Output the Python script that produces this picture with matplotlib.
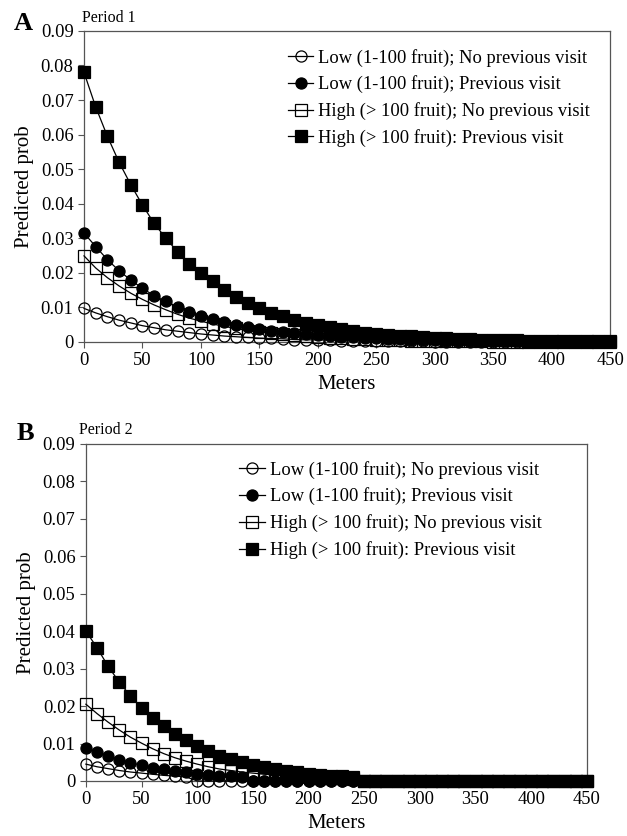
import matplotlib
matplotlib.use('Agg')
from matplotlib import pyplot as plt

plt.rcParams['font.family'] = ['Liberation Serif', 'DejaVu Serif']

# distance from the tree, every 10 m
meters = list(range(0, 451, 10))

labels = ['Low (1-100 fruit); No previous visit',
          'Low (1-100 fruit); Previous visit',
          'High (> 100 fruit); No previous visit',
          'High (> 100 fruit): Previous visit']

# Period 1
p1_low_noprev = [0.0097, 0.0084, 0.0073, 0.0063, 0.0055, 0.0047, 0.0041, 0.0035, 0.0031, 0.0027,
                 0.0023, 0.0020, 0.0017, 0.0015, 0.0013, 0.0011, 0.0010, 0.0009, 0.0007, 0.0006,
                 0.0006, 0.0005, 0.0004, 0.0004, 0.0003, 0.0003, 0.0002, 0.0002, 0.0002, 0.0002,
                 0.0001, 0.0001, 0.0001, 0.0001, 0.0001, 0.0001, 0.0001, 0.0001, 0.0000, 0.0000,
                 0.0000, 0.0000, 0.0000, 0.0000, 0.0000, 0.0000]
p1_low_prev = [0.0315, 0.0276, 0.0238, 0.0206, 0.0179, 0.0155, 0.0134, 0.0117, 0.0102, 0.0088,
               0.0076, 0.0066, 0.0057, 0.0050, 0.0043, 0.0038, 0.0033, 0.0029, 0.0025, 0.0022,
               0.0019, 0.0017, 0.0015, 0.0013, 0.0011, 0.0010, 0.0009, 0.0008, 0.0007, 0.0006,
               0.0005, 0.0004, 0.0004, 0.0003, 0.0003, 0.0003, 0.0002, 0.0002, 0.0002, 0.0002,
               0.0001, 0.0001, 0.0001, 0.0001, 0.0001, 0.0001]
p1_high_noprev = [0.0249, 0.0214, 0.0186, 0.0162, 0.0141, 0.0123, 0.0107, 0.0093, 0.0080, 0.0069,
                  0.0060, 0.0052, 0.0045, 0.0039, 0.0033, 0.0029, 0.0025, 0.0022, 0.0019, 0.0016,
                  0.0014, 0.0012, 0.0010, 0.0009, 0.0008, 0.0007, 0.0006, 0.0005, 0.0004, 0.0004,
                  0.0003, 0.0003, 0.0002, 0.0002, 0.0002, 0.0001, 0.0001, 0.0001, 0.0001, 0.0001,
                  0.0001, 0.0000, 0.0000, 0.0000, 0.0000, 0.0000]
p1_high_prev = [0.0780, 0.0680, 0.0595, 0.0520, 0.0455, 0.0396, 0.0343, 0.0300, 0.0261, 0.0226,
                0.0199, 0.0175, 0.0151, 0.0131, 0.0113, 0.0098, 0.0085, 0.0074, 0.0064, 0.0055,
                0.0048, 0.0042, 0.0036, 0.0031, 0.0027, 0.0024, 0.0021, 0.0018, 0.0016, 0.0014,
                0.0012, 0.0010, 0.0009, 0.0008, 0.0007, 0.0006, 0.0005, 0.0005, 0.0004, 0.0004,
                0.0003, 0.0003, 0.0002, 0.0002, 0.0002, 0.0002]

# Period 2 (values drop to zero further out)
p2_low_noprev = [0.0045, 0.0038, 0.0033, 0.0028, 0.0024, 0.0021, 0.0018, 0.0015, 0.0013, 0.0011] + [0.0] * 36
p2_low_prev = [0.0089, 0.0077, 0.0067, 0.0057, 0.0049, 0.0042, 0.0036, 0.0031, 0.0027, 0.0023,
               0.0019, 0.0016, 0.0014, 0.0012, 0.0010] + [0.0] * 31
p2_high_noprev = [0.0205, 0.0180, 0.0157, 0.0136, 0.0117, 0.0101, 0.0086, 0.0073, 0.0062, 0.0053,
                  0.0045, 0.0038, 0.0032, 0.0028, 0.0024, 0.0021, 0.0018, 0.0016, 0.0014, 0.0012,
                  0.0010, 0.0009, 0.0008, 0.0007, 0.0006] + [0.0] * 21
p2_high_prev = [0.0400, 0.0356, 0.0306, 0.0264, 0.0227, 0.0196, 0.0169, 0.0146, 0.0126, 0.0109,
                0.0093, 0.0080, 0.0068, 0.0058, 0.0050, 0.0043, 0.0037, 0.0032, 0.0028, 0.0024,
                0.0020, 0.0017, 0.0014, 0.0012, 0.0010] + [0.0] * 21

yticks = [0, 0.01, 0.02, 0.03, 0.04, 0.05, 0.06, 0.07, 0.08, 0.09]
ytick_labels = ['0', '0.01', '0.02', '0.03', '0.04', '0.05', '0.06', '0.07', '0.08', '0.09']
xticks = list(range(0, 451, 50))

styles = [dict(marker='o', mfc='none', zorder=3),
          dict(marker='o', mfc='black', zorder=5),
          dict(marker='s', mfc='none', zorder=4),
          dict(marker='s', mfc='black', zorder=6)]

fig = plt.figure(figsize=(6.27, 8.36), dpi=100)
axA = fig.add_axes([0.134, 0.591, 0.839, 0.372])
axB = fig.add_axes([0.137, 0.0658, 0.799, 0.4032])

panels = [(axA, [p1_low_noprev, p1_low_prev, p1_high_noprev, p1_high_prev], (0.373, 0.967)),
          (axB, [p2_low_noprev, p2_low_prev, p2_high_noprev, p2_high_prev], (0.291, 0.972))]

for ax, series, anchor in panels:
    for vals, lab, st in zip(series, labels, styles):
        ax.plot(meters, vals, color='black', lw=0.9, ms=8, mec='black', mew=0.9,
                label=lab, clip_on=False, **st)
    ax.set_xlim(0, 450)
    ax.set_ylim(0, 0.09)
    ax.set_xticks(xticks)
    ax.set_yticks(yticks)
    ax.set_yticklabels(ytick_labels)
    ax.tick_params(direction='out', labelsize=13.3, length=4, width=0.8, color='#555555')
    for sp in ax.spines.values():
        sp.set_color('#555555')
        sp.set_linewidth(0.9)
    ax.set_xlabel('Meters', fontsize=15, labelpad=4)
    ax.set_ylabel('Predicted prob', fontsize=15, labelpad=5)
    ax.legend(loc='upper left', bbox_to_anchor=anchor, frameon=False, fontsize=13.3,
              handlelength=1.4, handletextpad=0.25, labelspacing=0.48, borderaxespad=0)

fig.text(0.037, 0.972, 'A', fontsize=19, fontweight='bold', ha='center', va='center')
fig.text(0.131, 0.979, 'Period 1', fontsize=11.5, ha='left', va='center')
fig.text(0.040, 0.481, 'B', fontsize=19, fontweight='bold', ha='center', va='center')
fig.text(0.126, 0.486, 'Period 2', fontsize=11.5, ha='left', va='center')

fig.savefig('out.png', dpi=100)
